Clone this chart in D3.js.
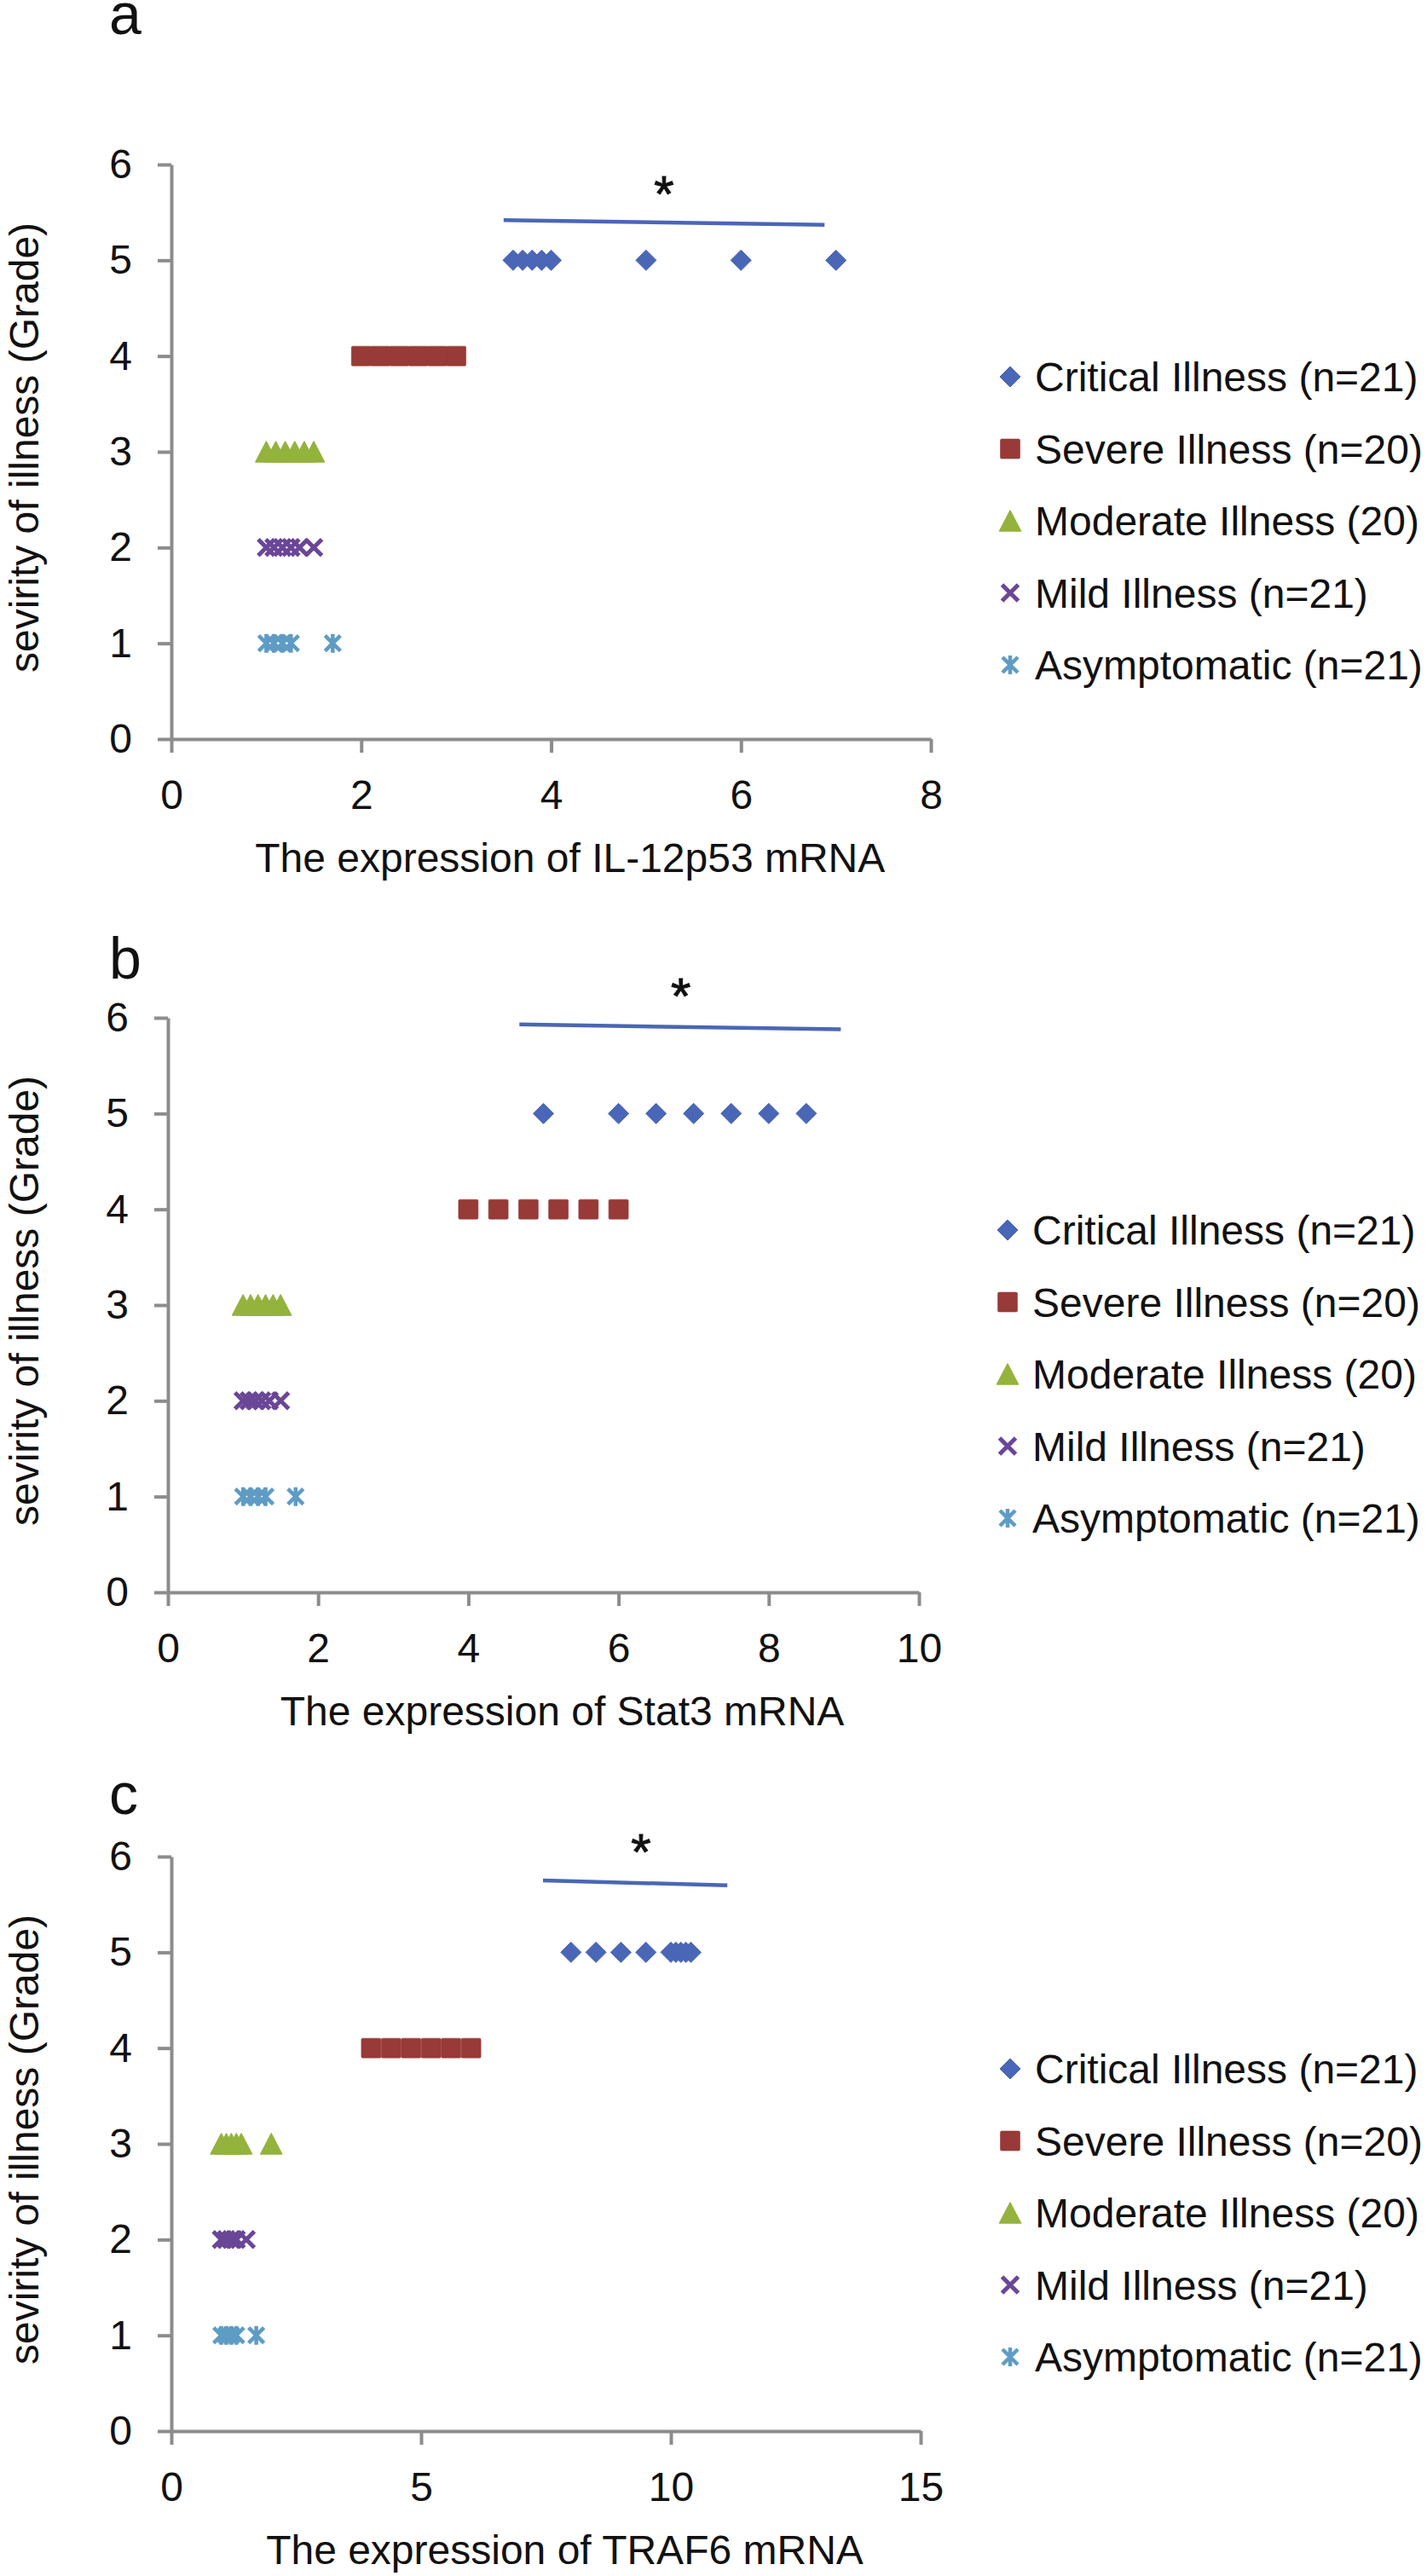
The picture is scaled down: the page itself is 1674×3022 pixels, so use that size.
<!DOCTYPE html>
<html>
<head>
<meta charset="utf-8">
<style>
  html, body { margin: 0; padding: 0; background: #fff; }
  svg { display: block; font-family: "Liberation Sans", Arial, Helvetica, sans-serif; }
  .axis path, .axis line { stroke: #8c8c8c; stroke-width: 4; }
  .axis text { font-size: 48px; fill: #111; font-family: "Liberation Sans", Arial, sans-serif; }
</style>
</head>
<body>
<div id="chart"></div>
<script src="https://cdn.jsdelivr.net/npm/d3@7/dist/d3.min.js"></script>
<script>
// series (legend order) and the grade each one sits on
var seriesNames = ["Critical Illness (n=21)", "Severe Illness (n=20)", "Moderate Illness (20)", "Mild Illness (n=21)", "Asymptomatic (n=21)"];
var seriesGrades = [5, 4, 3, 2, 1];
var gradeTicks = [0, 1, 2, 3, 4, 5, 6];

// panel a : IL-12p53
var il12Critical = [3.6, 3.7, 3.8, 3.9, 4.0, 5, 6, 7];
var il12Severe = [2.0, 2.2, 2.4, 2.6, 2.8, 3.0];
var il12Moderate = [1.0, 1.1, 1.2, 1.3, 1.4, 1.5];
var il12Mild = [1.0, 1.08, 1.17, 1.26, 1.35, 1.5];
var il12Asym = [1.0, 1.08, 1.17, 1.26, 1.7];
var il12Ticks = [0, 2, 4, 6, 8];
var il12Bracket = [[3.5, 5.42], [6.88, 5.37]];
var il12Star = [5.19, 5.81];

// panel b : Stat3
var statCritical = [5, 6, 6.5, 7, 7.5, 8, 8.5];
var statSevere = [4.0, 4.4, 4.8, 5.2, 5.6, 6.0];
var statModerate = [1.0, 1.1, 1.2, 1.3, 1.4, 1.5];
var statMild = [1.0, 1.08, 1.16, 1.25, 1.35, 1.5];
var statAsym = [1.0, 1.1, 1.2, 1.3, 1.7];
var statTicks = [0, 2, 4, 6, 8, 10];
var statBracket = [[4.68, 5.93], [8.96, 5.88]];
var statStar = [6.83, 6.35];

// panel c : TRAF6
var trafCritical = [8, 8.5, 9, 9.5, 10.0, 10.1, 10.2, 10.3, 10.4];
var trafSevere = [4.0, 4.4, 4.8, 5.2, 5.6, 6.0];
var trafModerate = [1.0, 1.1, 1.2, 1.3, 1.4, 2.0];
var trafMild = [1.0, 1.1, 1.2, 1.3, 1.5];
var trafAsym = [1.0, 1.1, 1.2, 1.3, 1.7];
var trafTicks = [0, 5, 10, 15];
var trafBracket = [[7.44, 5.75], [11.13, 5.70]];
var trafStar = [9.40, 6.17];

var colors = ["#4a66b6", "#983a37", "#94b33d", "#6a4697", "#5e9cc4"];
var shapes = ["diamond", "square", "triangle", "cross", "star"];

var svg = d3.select("#chart").append("svg")
    .attr("width", 1674)
    .attr("height", 3022);

function drawMarker(g, shape, color, x, y) {
  if (shape == "diamond") {
    g.append("path")
      .attr("d", "M" + x + "," + (y - 12) + "L" + (x + 12) + "," + y + "L" + x + "," + (y + 12) + "L" + (x - 12) + "," + y + "Z")
      .attr("fill", color).attr("stroke", color).attr("stroke-width", 1).attr("stroke-linejoin", "round");
  } else if (shape == "square") {
    g.append("rect")
      .attr("x", x - 11.5).attr("y", y - 11.5).attr("width", 23).attr("height", 23).attr("rx", 1.5)
      .attr("fill", color).attr("stroke", color).attr("stroke-opacity", 0.6).attr("stroke-width", 1);
  } else if (shape == "triangle") {
    g.append("path")
      .attr("d", "M" + x + "," + (y - 12) + "L" + (x + 12.5) + "," + (y + 12) + "L" + (x - 12.5) + "," + (y + 12) + "Z")
      .attr("fill", color).attr("stroke", color).attr("stroke-width", 1.5).attr("stroke-linejoin", "round");
  } else if (shape == "cross") {
    g.append("path")
      .attr("d", "M" + (x - 9.5) + "," + (y - 9.5) + "L" + (x + 9.5) + "," + (y + 9.5) +
                 "M" + (x + 9.5) + "," + (y - 9.5) + "L" + (x - 9.5) + "," + (y + 9.5))
      .attr("stroke", color).attr("stroke-width", 5).attr("fill", "none");
  } else {
    g.append("path")
      .attr("d", "M" + (x - 9) + "," + (y - 9) + "L" + (x + 9) + "," + (y + 9) +
                 "M" + (x + 9) + "," + (y - 9) + "L" + (x - 9) + "," + (y + 9) +
                 "M" + x + "," + (y - 11) + "L" + x + "," + (y + 11))
      .attr("stroke", color).attr("stroke-width", 4.5).attr("fill", "none");
  }
}

function drawPanel(p) {
  var g = svg.append("g").attr("transform", "translate(" + p.left + "," + p.top + ")");

  var x = d3.scaleLinear().domain([0, p.ticks[p.ticks.length - 1]]).range([0, p.width]);
  var y = d3.scaleLinear().domain([0, 6]).range([p.height, 0]);

  // panel letter
  svg.append("text")
     .attr("x", 128).attr("y", p.letterY)
     .style("font-size", "68px").style("fill", "#111")
     .text(p.letter);

  // axes
  g.append("g").attr("class", "axis")
   .call(d3.axisLeft(y).tickValues(gradeTicks).tickFormat(d3.format("d")).tickSize(16).tickSizeOuter(0).tickPadding(30));

  g.append("g").attr("class", "axis")
   .attr("transform", "translate(0," + p.height + ")")
   .call(d3.axisBottom(x).tickValues(p.ticks).tickFormat(d3.format("d")).tickSize(16).tickSizeOuter(0).tickPadding(32));

  // axis titles
  g.append("text")
   .attr("x", p.width * 0.525)
   .attr("y", p.height + 156)
   .style("text-anchor", "middle")
   .style("font-size", "48px").style("fill", "#111")
   .text(p.xTitle);

  g.append("text")
   .attr("transform", "rotate(-90)")
   .attr("x", -p.height / 2 + 5)
   .attr("y", 45 - p.left)
   .style("text-anchor", "middle")
   .style("font-size", "48px").style("fill", "#111")
   .text("sevirity of illness (Grade)");

  // significance line and star
  g.append("path")
   .datum(p.bracket)
   .attr("fill", "none")
   .attr("stroke", colors[0])
   .attr("stroke-width", 4.5)
   .attr("d", d3.line().x(function(d) { return x(d[0]); }).y(function(d) { return y(d[1]); }));

  g.append("text")
   .attr("x", x(p.star[0]))
   .attr("y", y(p.star[1]) + 34)
   .style("text-anchor", "middle")
   .style("font-size", "60px").style("fill", "#111")
   .style("stroke", "#111").style("stroke-width", 1)
   .text("*");

  // points, drawn last series first so critical ends on top
  for (var s = p.series.length - 1; s >= 0; s--) {
    p.series[s].forEach(function(v) {
      drawMarker(g, shapes[s], colors[s], x(v), y(seriesGrades[s]));
    });
  }

  // legend
  var lg = svg.append("g").attr("transform", "translate(" + p.legendX + "," + (p.top + 249) + ")");
  seriesNames.forEach(function(name, i) {
    drawMarker(lg, shapes[i], colors[i], 0, i * 84.5);
    lg.append("text")
      .attr("x", 29).attr("y", i * 84.5 + 17)
      .style("font-size", "48px").style("fill", "#111")
      .text(name);
  });
}

drawPanel({ letter: "a", letterY: 40, left: 201, top: 193, width: 891, height: 674,
            ticks: il12Ticks, xTitle: "The expression of IL-12p53 mRNA",
            series: [il12Critical, il12Severe, il12Moderate, il12Mild, il12Asym],
            bracket: il12Bracket, star: il12Star, legendX: 1185 });

drawPanel({ letter: "b", letterY: 1148, left: 197, top: 1194, width: 881, height: 674,
            ticks: statTicks, xTitle: "The expression of Stat3 mRNA",
            series: [statCritical, statSevere, statModerate, statMild, statAsym],
            bracket: statBracket, star: statStar, legendX: 1182 });

drawPanel({ letter: "c", letterY: 2128, left: 201, top: 2178, width: 879, height: 674,
            ticks: trafTicks, xTitle: "The expression of TRAF6 mRNA",
            series: [trafCritical, trafSevere, trafModerate, trafMild, trafAsym],
            bracket: trafBracket, star: trafStar, legendX: 1185 });
</script>
</body>
</html>
